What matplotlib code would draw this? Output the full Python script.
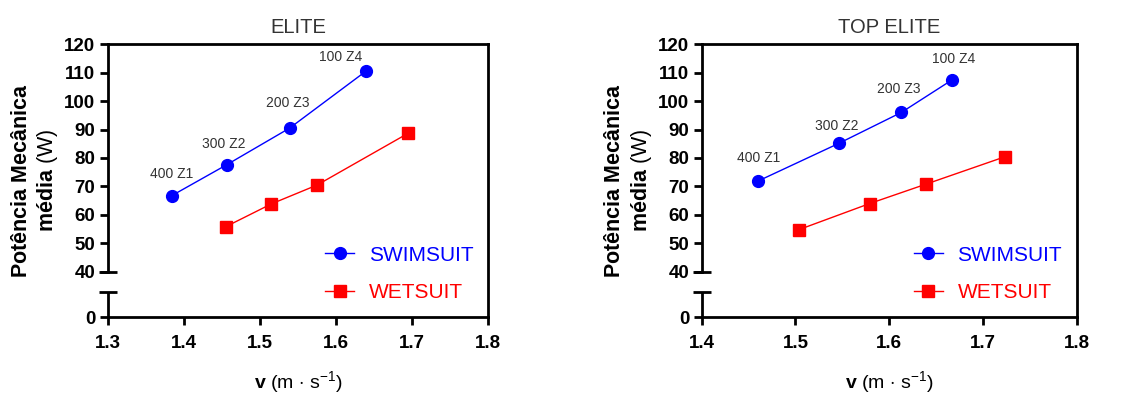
import numpy as np
import matplotlib
matplotlib.use("Agg")
import matplotlib.pyplot as plt
import matplotlib.transforms as mtransforms

plt.rcParams['font.family'] = ['Liberation Sans', 'DejaVu Sans']
plt.rcParams['mathtext.fontset'] = 'custom'
plt.rcParams['mathtext.rm'] = 'Liberation Sans'
plt.rcParams['mathtext.bf'] = 'Liberation Sans:bold'
plt.rcParams['mathtext.it'] = 'Liberation Sans:italic'

# ELITE
elite_swim_v = [1.384, 1.456, 1.539, 1.640]
elite_swim_p = [66.8, 77.6, 90.5, 110.6]
elite_wet_v = [1.455, 1.515, 1.575, 1.695]
elite_wet_p = [55.9, 63.9, 70.5, 88.7]

# TOP ELITE
top_swim_v = [1.460, 1.546, 1.613, 1.667]
top_swim_p = [71.9, 85.1, 96.0, 107.4]
top_wet_v = [1.504, 1.579, 1.639, 1.724]
top_wet_p = [54.9, 64.0, 70.8, 80.5]

zone_labels = ['400 Z1', '300 Z2', '200 Z3', '100 Z4']
yticks = [40, 50, 60, 70, 80, 90, 100, 110, 120]

y_zero = 24.2   # where "0" sits below the axis break
y_break = 33.1  # top of the lower spine piece

fig = plt.figure(figsize=(11.39, 3.94), dpi=100)
ax1 = fig.add_axes([0.0948, 0.1954, 0.3337, 0.6929])
ax2 = fig.add_axes([0.6161, 0.1954, 0.3292, 0.6929])


def draw_panel(ax, title, sv, sp, wv, wp, xlim, offsets):
    ax.plot(sv, sp, color='blue', lw=1, marker='o', ms=8.5, label='SWIMSUIT')
    ax.plot(wv, wp, color='red', lw=1, marker='s', ms=8, label='WETSUIT')
    for lab, x, y, off in zip(zone_labels, sv, sp, offsets):
        ax.annotate(lab, (x, y), xytext=off, textcoords='offset pixels',
                    ha='center', va='center', fontsize=10, color='#333333')

    ax.set_xlim(*xlim)
    ax.set_ylim(y_zero, 120)
    ax.set_xticks(np.round(np.arange(xlim[0], xlim[1] + 0.01, 0.1), 1))
    ax.set_yticks([y_zero] + yticks)
    ax.set_yticklabels(['0'] + [str(t) for t in yticks])

    for s in ax.spines.values():
        s.set_linewidth(2)
    ax.spines['left'].set_bounds(40, 120)
    ax.tick_params(width=2, length=6, labelsize=13.5)
    ax.tick_params(axis='x', pad=7)
    ax.tick_params(axis='y', pad=3)
    for t in ax.get_xticklabels() + ax.get_yticklabels():
        t.set_fontweight('bold')

    # lower piece of the broken y axis, with caps
    tr = mtransforms.blended_transform_factory(ax.transAxes, ax.transData)
    ax.plot([0, 0], [y_zero, y_break], transform=tr, color='black', lw=2,
            clip_on=False, solid_capstyle='butt')
    ax.plot([0, 0], [40, y_break], transform=tr, color='black', ls='none',
            marker='_', ms=13, mew=2, clip_on=False)

    ax.set_title(title, fontsize=14.5, color='#333333', pad=8)
    ax.set_ylabel(r'$\mathbf{Potência\ Mecânica}$' + '\n' + r'$\mathbf{média}$ (W)',
                  fontsize=15.5, labelpad=3)
    ax.set_xlabel(r'$\mathbf{v}$ (m $\cdot$ s$^{-1}$)', fontsize=14, labelpad=12)

    leg = ax.legend(loc='lower right', frameon=False, fontsize=15,
                    handlelength=1.4, handletextpad=0.7, labelspacing=0.9,
                    borderaxespad=0.3, bbox_to_anchor=(1.0, 0.0))
    for txt, c in zip(leg.get_texts(), ['blue', 'red']):
        txt.set_color(c)


draw_panel(ax1, 'ELITE', elite_swim_v, elite_swim_p, elite_wet_v, elite_wet_p,
           (1.3, 1.8), [(0, 22), (-3, 21), (-2, 25), (-26, 14)])
draw_panel(ax2, 'TOP ELITE', top_swim_v, top_swim_p, top_wet_v, top_wet_p,
           (1.4, 1.8), [(1, 23), (-2, 17), (-3, 23), (2, 21)])

fig.savefig('out.png', dpi=100)
